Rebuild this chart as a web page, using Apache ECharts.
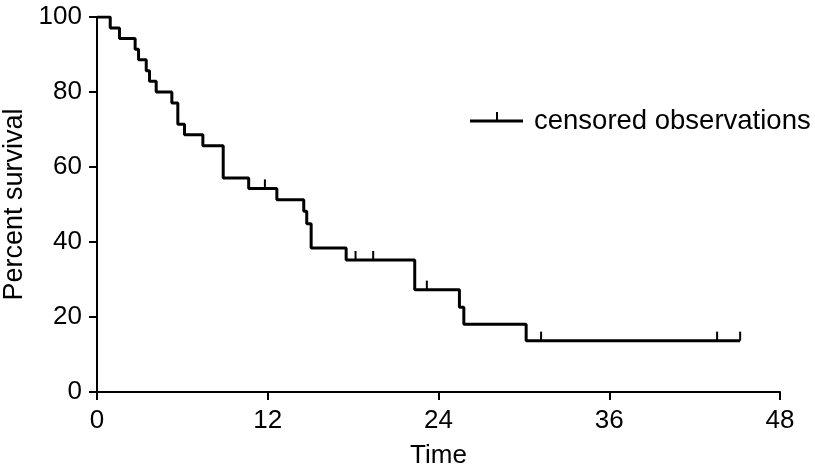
<!DOCTYPE html>
<html>
<head>
<meta charset="utf-8">
<script src="https://cdn.jsdelivr.net/npm/echarts@6/dist/echarts.min.js"></script>
<style>
html,body{margin:0;padding:0;background:#fff;}
#chart{width:815px;height:471px;}
</style>
</head>
<body>
<div id="chart"></div>
<script>
// Kaplan-Meier step points: time of drop and survival after drop
const eventTimes = [0, 0.93, 1.58, 2.68, 2.92, 3.46, 3.69, 4.16, 5.26, 5.68, 6.15, 7.44, 8.87, 10.66, 12.64, 14.53, 14.74, 15.05, 17.51, 22.33, 25.47, 25.78, 30.16, 45.2];
const survival   = [100, 97.1, 94.3, 91.4, 88.6, 85.7, 82.9, 80.0, 77.1, 71.4, 68.6, 65.7, 57.1, 54.3, 51.3, 48.2, 44.9, 38.4, 35.2, 27.3, 22.6, 18.1, 13.7, 13.7];
// censored observations
const censorTimes = [11.8, 18.17, 19.41, 23.18, 31.21, 43.58, 45.2];
const censorSurv  = [54.3, 35.2, 35.2, 27.3, 13.7, 13.7, 13.7];
const xTicks = [0, 12, 24, 36, 48];
const yTicks = [0, 20, 40, 60, 80, 100];
const legendLabel = 'censored observations';

const FONT = 'Liberation Sans';
const chart = echarts.init(document.getElementById('chart'), null, {renderer: 'canvas'});
const stepData = eventTimes.map((t, i) => [t, survival[i]]);
const censorData = censorTimes.map((t, i) => [t, censorSurv[i]]);

chart.setOption({
  animation: false,
  backgroundColor: '#fff',
  grid: {left: 97, right: 35, top: 17, bottom: 79, containLabel: false, outerBoundsMode: 'none'},
  xAxis: {
    type: 'value', min: xTicks[0], max: xTicks[xTicks.length - 1], interval: 12,
    name: 'Time', nameLocation: 'middle', nameGap: 51,
    nameTextStyle: {fontFamily: FONT, fontSize: 26, color: '#000'},
    axisLine: {lineStyle: {color: '#000', width: 2}},
    axisTick: {length: 8, lineStyle: {color: '#000', width: 2}},
    axisLabel: {fontFamily: FONT, fontSize: 26, color: '#000', margin: 16},
    splitLine: {show: false}
  },
  yAxis: {
    type: 'value', min: yTicks[0], max: yTicks[yTicks.length - 1], interval: 20,
    name: 'Percent survival', nameLocation: 'middle', nameGap: 65, nameRotate: 90,
    nameTextStyle: {fontFamily: FONT, fontSize: 27, color: '#000'},
    axisLine: {show: true, lineStyle: {color: '#000', width: 2}},
    axisTick: {show: true, length: 8, lineStyle: {color: '#000', width: 2}},
    axisLabel: {fontFamily: FONT, fontSize: 26, color: '#000', margin: 15},
    splitLine: {show: false}
  },
  series: [
    {
      type: 'line', step: 'end', data: stepData, symbol: 'none',
      lineStyle: {color: '#000', width: 3}, z: 3
    },
    {
      type: 'custom', data: censorData, z: 4,
      renderItem: function (params, api) {
        const p = api.coord([api.value(0), api.value(1)]);
        return {
          type: 'line',
          shape: {x1: p[0], y1: p[1], x2: p[0], y2: p[1] - 9},
          style: {stroke: '#000', lineWidth: 2}
        };
      }
    }
  ],
  graphic: [
    {type: 'line', shape: {x1: 470, y1: 121, x2: 523, y2: 121}, style: {stroke: '#000', lineWidth: 3}},
    {type: 'line', shape: {x1: 497, y1: 121, x2: 497, y2: 112}, style: {stroke: '#000', lineWidth: 2}},
    {type: 'text', left: 534, top: 107, style: {text: legendLabel, fontFamily: FONT, fontSize: 27.5, fill: '#000'}}
  ]
});
</script>
</body>
</html>
